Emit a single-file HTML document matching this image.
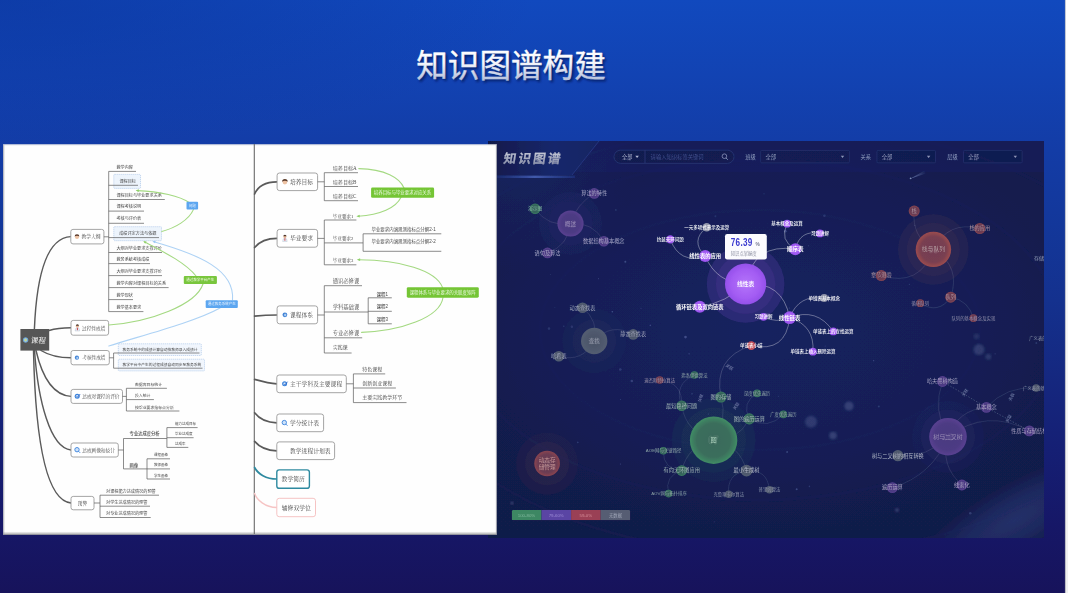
<!DOCTYPE html>
<html><head><meta charset="utf-8"><title>知识图谱构建</title>
<style>html,body{margin:0;padding:0;background:#17135a;width:1068px;height:593px;overflow:hidden;font-family:"Liberation Sans",sans-serif}
svg text{font-family:"Liberation Sans","Noto Sans CJK SC",sans-serif}
svg text.r{font-family:"Liberation Serif","Noto Serif CJK SC",serif}</style>
</head><body>
<svg width="1068" height="593" viewBox="0 0 1068 593" style="display:block">
<defs>
<linearGradient id="bg" x1="0" y1="0" x2="0" y2="1">
<stop offset="0" stop-color="#1149be"/><stop offset="0.126" stop-color="#1243b3"/><stop offset="0.253" stop-color="#133ca6"/><stop offset="0.38" stop-color="#13379a"/><stop offset="0.506" stop-color="#14318e"/><stop offset="0.632" stop-color="#152880"/><stop offset="0.759" stop-color="#151f74"/><stop offset="0.885" stop-color="#161767"/><stop offset="1" stop-color="#17135b"/>
</linearGradient>
<radialGradient id="bgr" cx="0" cy="0" r="0.5"><stop offset="0" stop-color="#0a2f92" stop-opacity="0.5"/><stop offset="1" stop-color="#0a2f92" stop-opacity="0"/></radialGradient>
<linearGradient id="strip" x1="0" y1="0" x2="0" y2="1"><stop offset="0" stop-color="#ffffff"/><stop offset="1" stop-color="#f0f0f0"/></linearGradient>
<linearGradient id="tg" gradientUnits="userSpaceOnUse" x1="0" y1="49" x2="0" y2="80.6"><stop offset="0" stop-color="#ffffff"/><stop offset="0.45" stop-color="#f4f6fb"/><stop offset="1" stop-color="#b4bfdc"/></linearGradient>
<filter id="tsh" x="-10%" y="-30%" width="120%" height="160%"><feGaussianBlur stdDeviation="0.9"/></filter>

<linearGradient id="rbg" x1="0" y1="0" x2="0" y2="1"><stop offset="0" stop-color="#121b4e"/><stop offset="0.5" stop-color="#121b4c"/><stop offset="1" stop-color="#111a4a"/></linearGradient>
<radialGradient id="rglow1" gradientUnits="userSpaceOnUse" cx="1015" cy="520" r="120" gradientTransform="translate(1015 520) rotate(-30) scale(1 0.3) translate(-1015 -520)"><stop offset="0" stop-color="#3a4a8c" stop-opacity="0.45"/><stop offset="0.5" stop-color="#3a4a8c" stop-opacity="0.3"/><stop offset="1" stop-color="#3a4a8c" stop-opacity="0"/></radialGradient>
<radialGradient id="rglow2" gradientUnits="userSpaceOnUse" cx="520" cy="150" r="120"><stop offset="0" stop-color="#2540a0" stop-opacity="0.22"/><stop offset="1" stop-color="#2540a0" stop-opacity="0"/></radialGradient>
<radialGradient id="rglow3" gradientUnits="userSpaceOnUse" cx="760" cy="330" r="330" gradientTransform="translate(760 330) scale(1 0.62) translate(-760 -330)"><stop offset="0" stop-color="#1c2a78" stop-opacity="0.42"/><stop offset="0.55" stop-color="#1c2a78" stop-opacity="0.26"/><stop offset="1" stop-color="#1c2a78" stop-opacity="0"/></radialGradient>
<linearGradient id="star" gradientUnits="userSpaceOnUse" x1="910" y1="179" x2="926" y2="171.5"><stop offset="0" stop-color="#a8b6e6" stop-opacity="0.6"/><stop offset="1" stop-color="#8fa0d8" stop-opacity="0"/></linearGradient>
<linearGradient id="tab" x1="0" y1="0" x2="1" y2="0"><stop offset="0" stop-color="#11194a"/><stop offset="0.18" stop-color="#131d54"/><stop offset="0.6" stop-color="#19286c"/><stop offset="1" stop-color="#172462"/></linearGradient>
<linearGradient id="tabl" x1="0" y1="0" x2="1" y2="0"><stop offset="0" stop-color="#3d63d8" stop-opacity="0.1"/><stop offset="0.5" stop-color="#5f80e0" stop-opacity="0.6"/><stop offset="1" stop-color="#3d63d8" stop-opacity="0.2"/></linearGradient>
<linearGradient id="logo" gradientUnits="userSpaceOnUse" x1="0" y1="-10.7" x2="0" y2="1.3"><stop offset="0" stop-color="#c4c8d6"/><stop offset="1" stop-color="#8a8fa8"/></linearGradient>
<radialGradient id="pb"><stop offset="0" stop-color="#b474fa"/><stop offset="0.7" stop-color="#a35cf3"/><stop offset="1" stop-color="#9450ea"/></radialGradient>

<radialGradient id="cp"><stop offset="0" stop-color="#4a3a80"/><stop offset="0.72" stop-color="#4d3b84"/><stop offset="1" stop-color="#594191"/></radialGradient>
<radialGradient id="cr"><stop offset="0" stop-color="#653a52"/><stop offset="0.72" stop-color="#6c3c52"/><stop offset="1" stop-color="#8b4550"/></radialGradient>
<radialGradient id="cR"><stop offset="0" stop-color="#723d52"/><stop offset="0.72" stop-color="#793f51"/><stop offset="1" stop-color="#9d4c4e"/></radialGradient>
<radialGradient id="cg"><stop offset="0" stop-color="#34605a"/><stop offset="0.72" stop-color="#35655b"/><stop offset="1" stop-color="#3b7f61"/></radialGradient>
<radialGradient id="cG"><stop offset="0" stop-color="#3b6a5b"/><stop offset="0.72" stop-color="#3b6e5c"/><stop offset="1" stop-color="#408d65"/></radialGradient>
<radialGradient id="cy"><stop offset="0" stop-color="#485166"/><stop offset="1" stop-color="#535d71"/></radialGradient>
<clipPath id="rclip"><rect x="488" y="141" width="556" height="397"/></clipPath>
<filter id="b1"><feGaussianBlur stdDeviation="0.45"/></filter>
<filter id="rb" filterUnits="userSpaceOnUse" x="470" y="130" width="600" height="420"><feGaussianBlur stdDeviation="0.35"/></filter>
<filter id="b2"><feGaussianBlur stdDeviation="1.1"/></filter>


<clipPath id="lclip"><rect x="3.1" y="144.4" width="493.6" height="390.4"/></clipPath>
<filter id="lb" filterUnits="userSpaceOnUse" x="-10" y="130" width="520" height="420"><feGaussianBlur stdDeviation="0.42"/></filter>
<linearGradient id="bevb" x1="0" y1="0" x2="0" y2="1"><stop offset="0" stop-color="#8a8a8a" stop-opacity="0"/><stop offset="0.6" stop-color="#8a8a8a" stop-opacity="0.45"/><stop offset="1" stop-color="#70727c" stop-opacity="0.95"/></linearGradient>
<linearGradient id="bevl" x1="0" y1="0" x2="1" y2="0"><stop offset="0" stop-color="#8a8c96" stop-opacity="0.8"/><stop offset="0.4" stop-color="#9a9ca6" stop-opacity="0.3"/><stop offset="1" stop-color="#8a8c96" stop-opacity="0"/></linearGradient>
<linearGradient id="bevr" x1="0" y1="0" x2="1" y2="0"><stop offset="0" stop-color="#8a8c96" stop-opacity="0"/><stop offset="1" stop-color="#8a8c96" stop-opacity="0.9"/></linearGradient>
</defs>
<rect x="0" y="0" width="1068" height="593" fill="url(#bg)"/><rect x="0" y="0" width="1068" height="300" fill="url(#bgr)"/><rect x="1065.2" y="0" width="2.8" height="593" fill="url(#strip)"/><rect x="1064.9" y="0" width="0.8" height="593" fill="#b4b4b8" opacity="0.7"/><text x="418" y="78.5" font-size="31.6" fill="#06154f" opacity="0.7" filter="url(#tsh)" stroke="#06154f" stroke-width="0.38">知识图谱构建</text><text x="416.2" y="76.8" font-size="31.6" fill="url(#tg)" stroke="url(#tg)" stroke-width="0.35" stroke-linejoin="round">知识图谱构建</text><g clip-path="url(#rclip)"><g filter="url(#rb)"><rect x="488" y="141" width="556" height="397" fill="url(#rbg)"/><rect x="488" y="141" width="556" height="397" fill="url(#rglow1)"/><rect x="488" y="141" width="556" height="397" fill="url(#rglow2)"/><rect x="488" y="141" width="556" height="397" fill="url(#rglow3)"/><ellipse cx="760" cy="330" rx="300" ry="170" fill="none" stroke="#2c3a80" stroke-opacity="0.07" stroke-width="3"/><ellipse cx="760" cy="330" rx="220" ry="120" fill="none" stroke="#2c3a80" stroke-opacity="0.07" stroke-width="3"/><ellipse cx="780" cy="340" rx="380" ry="215" fill="none" stroke="#2c3a80" stroke-opacity="0.07" stroke-width="3"/><rect x="488" y="141" width="556" height="31" fill="#16236a" opacity="0.35"/><polygon points="488,141 599,141 591,151 572,175 488,175" fill="url(#tab)"/><rect x="495" y="175.6" width="80" height="2.4" fill="url(#tabl)" filter="url(#b1)"/><line x1="572" y1="175" x2="599" y2="141" stroke="#24347e" stroke-width="1"/><text transform="translate(503 163.2) skewX(-9)" font-size="12.6" font-weight="bold" letter-spacing="2.2" fill="url(#logo)" stroke="#a6abc0" stroke-width="0.25">知识图谱</text><rect x="614" y="150.2" width="120" height="13.1" rx="6.5" fill="#101848" fill-opacity="0.5" stroke="#2a3776" stroke-width="0.8"/><line x1="645" y1="150.4" x2="645" y2="163.2" stroke="#2e3b7c" stroke-width="0.8"/><text x="622" y="158.6" font-size="5.2" fill="#b4bbd2">全部</text><path d="M635.3 155.8h3.6l-1.8 2.2z" fill="#b4bbd2"/><text x="650.6" y="158.7" font-size="5.3" fill="#44518c">请输入知识标签关键词</text><circle cx="724.4" cy="156.2" r="2.3" fill="none" stroke="#8c96ba" stroke-width="0.8"/><line x1="726.1" y1="158" x2="727.8" y2="159.8" stroke="#8c96ba" stroke-width="0.9"/><text x="745.2" y="158.7" font-size="5.2" fill="#9aa3c4">班级</text><rect x="760.7" y="150.4" width="88.69999999999993" height="12.4" rx="1" fill="#101848" fill-opacity="0.4" stroke="#283470" stroke-width="0.7"/><text x="765.5" y="158.7" font-size="5.3" fill="#9aa2c0">全部</text><path d="M840.8 155.8h3.4l-1.7 2.1z" fill="#8d96b8"/><text x="860.6" y="158.7" font-size="5.2" fill="#9aa3c4">关系</text><rect x="877" y="150.4" width="58.5" height="12.4" rx="1" fill="#101848" fill-opacity="0.4" stroke="#283470" stroke-width="0.7"/><text x="881.8" y="158.7" font-size="5.3" fill="#9aa2c0">全部</text><path d="M926.9 155.8h3.4l-1.7 2.1z" fill="#8d96b8"/><text x="947.2" y="158.7" font-size="5.2" fill="#9aa3c4">层级</text><rect x="963.5" y="150.4" width="58.700000000000045" height="12.4" rx="1" fill="#101848" fill-opacity="0.4" stroke="#283470" stroke-width="0.7"/><text x="968.3" y="158.7" font-size="5.3" fill="#9aa2c0">全部</text><path d="M1013.6 155.8h3.4l-1.7 2.1z" fill="#8d96b8"/><circle cx="674.9" cy="232.8" r="0.5" fill="#6f7cb8" opacity="0.22"/><circle cx="789.4" cy="308.0" r="0.5" fill="#6f7cb8" opacity="0.47"/><circle cx="615.9" cy="210.1" r="1.0" fill="#6f7cb8" opacity="0.22"/><circle cx="549.0" cy="328.6" r="1.3" fill="#6f7cb8" opacity="0.24"/><circle cx="620.5" cy="399.6" r="0.5" fill="#6f7cb8" opacity="0.37"/><circle cx="714.2" cy="521.7" r="0.5" fill="#6f7cb8" opacity="0.37"/><circle cx="571.9" cy="326.7" r="1.3" fill="#6f7cb8" opacity="0.24"/><circle cx="666.6" cy="465.6" r="0.6" fill="#6f7cb8" opacity="0.23"/><circle cx="808.5" cy="245.8" r="0.5" fill="#6f7cb8" opacity="0.36"/><circle cx="533.9" cy="200.9" r="0.6" fill="#6f7cb8" opacity="0.35"/><circle cx="787.1" cy="452.0" r="1.0" fill="#6f7cb8" opacity="0.38"/><circle cx="744.7" cy="284.9" r="0.6" fill="#6f7cb8" opacity="0.41"/><circle cx="631.8" cy="381.0" r="1.3" fill="#6f7cb8" opacity="0.35"/><circle cx="685.5" cy="337.1" r="1.3" fill="#6f7cb8" opacity="0.49"/><circle cx="563.8" cy="326.3" r="0.8" fill="#6f7cb8" opacity="0.25"/><circle cx="764.0" cy="193.7" r="0.5" fill="#6f7cb8" opacity="0.43"/><circle cx="809.4" cy="486.4" r="0.8" fill="#6f7cb8" opacity="0.30"/><circle cx="689.1" cy="353.8" r="1.0" fill="#6f7cb8" opacity="0.22"/><circle cx="550.5" cy="274.5" r="0.5" fill="#6f7cb8" opacity="0.22"/><circle cx="878.8" cy="406.5" r="1.0" fill="#6f7cb8" opacity="0.29"/><circle cx="708.3" cy="414.0" r="0.5" fill="#6f7cb8" opacity="0.48"/><circle cx="692.0" cy="393.8" r="1.0" fill="#6f7cb8" opacity="0.22"/><circle cx="914.8" cy="225.3" r="0.6" fill="#6f7cb8" opacity="0.32"/><circle cx="995.1" cy="353.8" r="0.6" fill="#6f7cb8" opacity="0.33"/><circle cx="796.7" cy="489.2" r="1.0" fill="#6f7cb8" opacity="0.46"/><circle cx="650.3" cy="325.4" r="0.8" fill="#6f7cb8" opacity="0.40"/><circle cx="705.4" cy="260.8" r="0.5" fill="#6f7cb8" opacity="0.25"/><circle cx="625.3" cy="261.7" r="1.0" fill="#6f7cb8" opacity="0.45"/><circle cx="598.5" cy="278.7" r="0.6" fill="#6f7cb8" opacity="0.33"/><circle cx="699.4" cy="378.2" r="0.6" fill="#6f7cb8" opacity="0.41"/><circle cx="778.4" cy="396.2" r="0.5" fill="#6f7cb8" opacity="0.34"/><circle cx="970.3" cy="513.2" r="1.3" fill="#6f7cb8" opacity="0.32"/><circle cx="715.4" cy="216.2" r="1.0" fill="#6f7cb8" opacity="0.22"/><circle cx="536.4" cy="253.1" r="0.6" fill="#6f7cb8" opacity="0.23"/><circle cx="824.4" cy="215.8" r="1.3" fill="#6f7cb8" opacity="0.25"/><circle cx="554.8" cy="307.3" r="0.5" fill="#6f7cb8" opacity="0.22"/><circle cx="612.3" cy="311.7" r="0.8" fill="#6f7cb8" opacity="0.49"/><circle cx="825.2" cy="346.0" r="0.5" fill="#6f7cb8" opacity="0.45"/><circle cx="1036.3" cy="343.1" r="1.0" fill="#6f7cb8" opacity="0.29"/><circle cx="577.8" cy="442.4" r="0.8" fill="#6f7cb8" opacity="0.34"/><circle cx="873.7" cy="360.7" r="0.6" fill="#6f7cb8" opacity="0.49"/><circle cx="785.3" cy="231.3" r="1.3" fill="#6f7cb8" opacity="0.47"/><circle cx="909.4" cy="284.3" r="0.5" fill="#6f7cb8" opacity="0.41"/><circle cx="641.0" cy="308.3" r="0.6" fill="#6f7cb8" opacity="0.31"/><circle cx="620.3" cy="369.5" r="1.3" fill="#6f7cb8" opacity="0.30"/><circle cx="620.4" cy="464.0" r="0.6" fill="#6f7cb8" opacity="0.44"/><circle cx="811" cy="421.7" r="6" fill="#8a94c0" opacity="0.22999999999999998" filter="url(#b2)"/><circle cx="833" cy="435.6" r="3.8" fill="#8a94c0" opacity="0.28" filter="url(#b2)"/><circle cx="849" cy="406" r="4.6" fill="#8a94c0" opacity="0.28" filter="url(#b2)"/><circle cx="979" cy="349.6" r="5.5" fill="#8a94c0" opacity="0.24" filter="url(#b2)"/><circle cx="988.4" cy="356.8" r="3" fill="#8a94c0" opacity="0.22000000000000003" filter="url(#b2)"/><circle cx="976.5" cy="336.4" r="2.8" fill="#8a94c0" opacity="0.16" filter="url(#b2)"/><circle cx="897" cy="510" r="1.8" fill="#8a94c0" opacity="0.38" filter="url(#b2)"/><circle cx="512" cy="503" r="1.6" fill="#8a94c0" opacity="0.38" filter="url(#b2)"/><path d="M910.3 178.8L924.6 170.4L926 173.4Z" fill="url(#star)" filter="url(#b1)"/><circle cx="910.6" cy="178.3" r="0.9" fill="#c5d0f0" opacity="0.6"/><circle cx="570.5" cy="223.5" r="31.5" fill="#5e429a" opacity="0.07"/><circle cx="570.5" cy="223.5" r="22" fill="#5e429a" opacity="0.075"/><circle cx="594.2" cy="341" r="32" fill="#525c70" opacity="0.06"/><circle cx="594.2" cy="341" r="22" fill="#525c70" opacity="0.06"/><circle cx="547.1" cy="463.5" r="31" fill="#8a4450" opacity="0.09"/><circle cx="547.1" cy="463.5" r="22" fill="#8a4450" opacity="0.085"/><circle cx="713.6" cy="440.2" r="41.8" fill="#3f8c64" opacity="0.07"/><circle cx="713.6" cy="440.2" r="32.6" fill="#3f8c64" opacity="0.075"/><circle cx="745.6" cy="284" r="38.8" fill="#a35cf3" opacity="0.16"/><circle cx="745.6" cy="284" r="29.7" fill="#a35cf3" opacity="0.085"/><circle cx="933.4" cy="249.4" r="35.4" fill="#9c4b4e" opacity="0.095"/><circle cx="933.4" cy="249.4" r="26.6" fill="#9c4b4e" opacity="0.09"/><circle cx="948" cy="436.7" r="36" fill="#5e429a" opacity="0.07"/><circle cx="948" cy="436.7" r="27" fill="#5e429a" opacity="0.075"/><path d="M570.5 223.5Q576.6 203.9 594.2 193.4" fill="none" stroke="#fff" stroke-opacity="0.14" stroke-width="0.7"/><path d="M570.5 223.5Q592.8 221.7 603.8 241.2" fill="none" stroke="#fff" stroke-opacity="0.14" stroke-width="0.7"/><path d="M570.5 223.5Q568.4 245.6 547.5 252.9" fill="none" stroke="#fff" stroke-opacity="0.14" stroke-width="0.7"/><path d="M570.5 223.5Q548.1 227.4 535.1 208.7" fill="none" stroke="#fff" stroke-opacity="0.14" stroke-width="0.7"/><path d="M594.2 341.0Q599.0 320.7 582.5 307.8" fill="none" stroke="#fff" stroke-opacity="0.14" stroke-width="0.7"/><path d="M594.2 341.0Q611.1 322.1 633.2 334.4" fill="none" stroke="#fff" stroke-opacity="0.14" stroke-width="0.7"/><path d="M594.2 341.0Q582.6 362.8 558.8 356.2" fill="none" stroke="#fff" stroke-opacity="0.14" stroke-width="0.7"/><path d="M713.6 440.2Q686.6 433.2 681.7 405.8" fill="none" stroke="#fff" stroke-opacity="0.14" stroke-width="0.7"/><path d="M713.6 440.2Q727.7 420.4 721.0 397.0" fill="none" stroke="#fff" stroke-opacity="0.14" stroke-width="0.7"/><path d="M713.6 440.2Q738.3 441.0 749.3 418.9" fill="none" stroke="#fff" stroke-opacity="0.14" stroke-width="0.7"/><path d="M713.6 440.2Q687.9 445.2 681.7 470.6" fill="none" stroke="#fff" stroke-opacity="0.14" stroke-width="0.7"/><path d="M713.6 440.2Q739.8 444.9 746.5 470.6" fill="none" stroke="#fff" stroke-opacity="0.14" stroke-width="0.7"/><path d="M681.7 405.8Q673.3 384.3 694.4 375.0" fill="none" stroke="#fff" stroke-opacity="0.15" stroke-width="0.7"/><path d="M681.7 405.8Q683.1 382.3 659.7 380.0" fill="none" stroke="#fff" stroke-opacity="0.15" stroke-width="0.7"/><path d="M681.7 470.6Q663.0 469.5 663.3 450.8" fill="none" stroke="#fff" stroke-opacity="0.15" stroke-width="0.7"/><path d="M681.7 470.6Q664.1 475.8 668.6 493.6" fill="none" stroke="#fff" stroke-opacity="0.15" stroke-width="0.7"/><path d="M746.5 470.6Q726.3 474.0 728.8 494.3" fill="none" stroke="#fff" stroke-opacity="0.15" stroke-width="0.7"/><path d="M746.5 470.6Q767.2 469.1 769.5 489.7" fill="none" stroke="#fff" stroke-opacity="0.15" stroke-width="0.7"/><path d="M749.3 418.9Q741.0 402.4 757.1 393.4" fill="none" stroke="#fff" stroke-opacity="0.15" stroke-width="0.7"/><path d="M749.3 418.9Q768.1 430.3 783.4 414.4" fill="none" stroke="#fff" stroke-opacity="0.15" stroke-width="0.7"/><path d="M721.0 397.0Q713.1 357.7 751.3 345.6" fill="none" stroke="#fff" stroke-opacity="0.25" stroke-width="0.7"/><path d="M745.6 284.0Q716.5 283.0 705.2 256.1" fill="none" stroke="#fff" stroke-opacity="0.55" stroke-width="0.7"/><path d="M705.2 256.1Q679.7 264.5 670.3 239.4" fill="none" stroke="#fff" stroke-opacity="0.5" stroke-width="0.7"/><path d="M705.2 256.1Q689.8 240.9 706.7 227.3" fill="none" stroke="#fff" stroke-opacity="0.5" stroke-width="0.7"/><path d="M745.6 284.0Q726.3 302.7 699.8 306.8" fill="none" stroke="#fff" stroke-opacity="0.55" stroke-width="0.7"/><path d="M745.6 284.0Q753.7 242.7 795.3 249.2" fill="none" stroke="#fff" stroke-opacity="0.55" stroke-width="0.7"/><path d="M795.3 249.2Q779.0 240.4 787.1 223.7" fill="none" stroke="#fff" stroke-opacity="0.5" stroke-width="0.7"/><path d="M795.3 249.2Q800.0 229.5 819.9 233.4" fill="none" stroke="#fff" stroke-opacity="0.5" stroke-width="0.7"/><path d="M745.6 284.0Q782.7 281.1 789.6 317.7" fill="none" stroke="#fff" stroke-opacity="0.55" stroke-width="0.7"/><path d="M789.6 317.7Q776.3 323.5 763.5 316.8" fill="none" stroke="#fff" stroke-opacity="0.5" stroke-width="0.7"/><path d="M789.6 317.7Q799.0 294.0 824.2 298.0" fill="none" stroke="#fff" stroke-opacity="0.5" stroke-width="0.7"/><path d="M789.6 317.7Q816.9 307.1 833.3 331.4" fill="none" stroke="#fff" stroke-opacity="0.5" stroke-width="0.7"/><path d="M789.6 317.7Q814.9 325.4 812.9 351.7" fill="none" stroke="#fff" stroke-opacity="0.5" stroke-width="0.7"/><path d="M789.6 317.7Q786.1 353.1 751.3 345.6" fill="none" stroke="#fff" stroke-opacity="0.5" stroke-width="0.7"/><path d="M933.4 249.4Q911.5 236.4 914.2 211.1" fill="none" stroke="#fff" stroke-opacity="0.14" stroke-width="0.7"/><path d="M933.4 249.4Q948.2 220.4 979.8 228.5" fill="none" stroke="#fff" stroke-opacity="0.14" stroke-width="0.7"/><path d="M933.4 249.4Q919.9 287.5 881.3 275.6" fill="none" stroke="#fff" stroke-opacity="0.14" stroke-width="0.7"/><path d="M933.4 249.4Q961.2 266.4 950.7 297.2" fill="none" stroke="#fff" stroke-opacity="0.14" stroke-width="0.7"/><path d="M950.7 297.2Q938.4 314.8 920.3 303.2" fill="none" stroke="#fff" stroke-opacity="0.15" stroke-width="0.7"/><path d="M950.7 297.2Q968.7 300.4 973.4 318.1" fill="none" stroke="#fff" stroke-opacity="0.15" stroke-width="0.7"/><path d="M948.0 436.7Q932.0 410.4 942.5 381.5" fill="none" stroke="#fff" stroke-opacity="0.14" stroke-width="0.7"/><path d="M948.0 436.7Q957.8 409.8 986.4 407.4" fill="none" stroke="#fff" stroke-opacity="0.14" stroke-width="0.7"/><path d="M948.0 436.7Q986.8 407.8 1029.3 430.9" fill="none" stroke="#fff" stroke-opacity="0.14" stroke-width="0.7"/><path d="M948.0 436.7Q927.5 458.2 897.9 455.7" fill="none" stroke="#fff" stroke-opacity="0.14" stroke-width="0.7"/><path d="M948.0 436.7Q932.4 475.5 892.4 487.6" fill="none" stroke="#fff" stroke-opacity="0.14" stroke-width="0.7"/><path d="M948.0 436.7Q939.5 465.3 961.9 485.0" fill="none" stroke="#fff" stroke-opacity="0.14" stroke-width="0.7"/><path d="M986.4 407.4Q1006.6 385.7 1036.2 388.0" fill="none" stroke="#fff" stroke-opacity="0.15" stroke-width="0.7"/><path d="M942.5 381.5Q964.5 394.4 986.4 407.4" fill="none" stroke="#fff" stroke-opacity="0.3" stroke-width="0.7" stroke-dasharray="1.5 1.5"/><path d="M986.4 407.4Q1007.8 419.1 1029.3 430.9" fill="none" stroke="#fff" stroke-opacity="0.3" stroke-width="0.7" stroke-dasharray="1.5 1.5"/><circle cx="570.5" cy="223.5" r="13.1" fill="url(#cp)"/><circle cx="594.2" cy="193.4" r="5.3" fill="url(#cp)"/><circle cx="603.8" cy="241.2" r="5.3" fill="url(#cp)"/><circle cx="547.5" cy="252.9" r="5.3" fill="url(#cp)"/><circle cx="535.1" cy="208.7" r="5.3" fill="url(#cg)"/><circle cx="594.2" cy="341" r="13.2" fill="url(#cy)"/><circle cx="582.5" cy="307.8" r="5.3" fill="url(#cy)"/><circle cx="633.2" cy="334.4" r="5.3" fill="url(#cy)"/><circle cx="558.8" cy="356.2" r="5.3" fill="url(#cy)"/><circle cx="547.1" cy="463.5" r="12.8" fill="url(#cr)"/><circle cx="713.6" cy="440.2" r="23.7" fill="url(#cG)"/><circle cx="681.7" cy="405.8" r="5.3" fill="url(#cg)"/><circle cx="721" cy="397" r="5.6" fill="url(#cg)"/><circle cx="749.3" cy="418.9" r="5.6" fill="url(#cg)"/><circle cx="694.4" cy="375" r="3.8" fill="url(#cg)"/><circle cx="659.7" cy="380" r="3.8" fill="url(#cr)"/><circle cx="663.3" cy="450.8" r="3.8" fill="url(#cg)"/><circle cx="681.7" cy="470.6" r="5.3" fill="url(#cg)"/><circle cx="668.6" cy="493.6" r="3.8" fill="url(#cg)"/><circle cx="746.5" cy="470.6" r="5.8" fill="url(#cy)"/><circle cx="728.8" cy="494.3" r="3.8" fill="url(#cy)"/><circle cx="769.5" cy="489.7" r="3.8" fill="url(#cy)"/><circle cx="757.1" cy="393.4" r="3.8" fill="url(#cg)"/><circle cx="783.4" cy="414.4" r="3.8" fill="url(#cg)"/><circle cx="745.6" cy="284" r="20.6" fill="url(#pb)"/><circle cx="705.2" cy="256.1" r="6" fill="url(#pb)"/><circle cx="670.3" cy="239.4" r="4.2" fill="url(#pb)"/><circle cx="706.7" cy="227.3" r="4.2" fill="#8f93a8"/><circle cx="699.8" cy="306.8" r="6" fill="url(#pb)"/><circle cx="795.3" cy="249.2" r="6" fill="url(#pb)"/><circle cx="787.1" cy="223.7" r="3.9" fill="url(#pb)"/><circle cx="819.9" cy="233.4" r="3.9" fill="url(#pb)"/><circle cx="789.6" cy="317.7" r="6.4" fill="url(#pb)"/><circle cx="763.5" cy="316.8" r="3.9" fill="url(#pb)"/><circle cx="824.2" cy="298" r="3.9" fill="#8f93a8"/><circle cx="833.3" cy="331.4" r="3.9" fill="url(#pb)"/><circle cx="812.9" cy="351.7" r="3.9" fill="url(#pb)"/><circle cx="751.3" cy="345.6" r="4.3" fill="#c4535e"/><circle cx="933.4" cy="249.4" r="17.7" fill="url(#cR)"/><circle cx="914.2" cy="211.1" r="5.5" fill="url(#cr)"/><circle cx="979.8" cy="228.5" r="5.5" fill="url(#cr)"/><circle cx="881.3" cy="275.6" r="5.5" fill="url(#cr)"/><circle cx="950.7" cy="297.2" r="5.5" fill="url(#cr)"/><circle cx="920.3" cy="303.2" r="3.9" fill="url(#cr)"/><circle cx="973.4" cy="318.1" r="3.9" fill="url(#cr)"/><circle cx="948" cy="436.7" r="18.8" fill="url(#cp)"/><circle cx="942.5" cy="381.5" r="5.4" fill="url(#cp)"/><circle cx="986.4" cy="407.4" r="5.4" fill="url(#cp)"/><circle cx="1029.3" cy="430.9" r="5.4" fill="url(#cp)"/><circle cx="897.9" cy="455.7" r="5.6" fill="url(#cy)"/><circle cx="892.4" cy="487.6" r="5.4" fill="url(#cp)"/><circle cx="961.9" cy="485" r="5.4" fill="url(#cp)"/><circle cx="1036.2" cy="388" r="3.8" fill="url(#cy)"/><circle cx="489" cy="475" r="3.8" fill="url(#cy)"/><g transform="rotate(35 729.5 367)"><text x="725.3" y="368.6" font-size="4.2" fill="#7d86ae">关联</text></g><g transform="rotate(-72 700.5 398)"><text x="696.3" y="399.6" font-size="4.2" fill="#7d86ae">关联</text></g><g transform="rotate(-55 736 406)"><text x="731.8" y="407.6" font-size="4.2" fill="#7d86ae">关联</text></g><g transform="rotate(-55 964.8 392.5)"><text x="960.6" y="394.1" font-size="4.2" fill="#7d86ae">关联</text></g><g transform="rotate(-60 1011.5 397)"><text x="1007.3" y="398.6" font-size="4.2" fill="#7d86ae">关联</text></g><g transform="rotate(-62 1008.5 418.5)"><text x="1004.3" y="420.1" font-size="4.2" fill="#7d86ae">关联</text></g><text x="564.7" y="225.59" font-size="5.8" fill="#9284b2">概述</text><text x="581.2" y="195.27" font-size="5.2" fill="#a9a6c6">算法的特性</text><text x="583" y="243.07" font-size="5.2" fill="#a9a6c6">数据结构基本概念</text><text x="534.5" y="254.77" font-size="5.2" fill="#a9a6c6">语句及算法</text><text x="527.9" y="210.43" font-size="4.8" fill="#86b8a4">演示图</text><text x="588.4" y="343.09" font-size="5.8" fill="#8c92a4">查找</text><text x="569.5" y="309.67" font-size="5.2" fill="#9ea3b8">动态查找表</text><text x="620.2" y="336.27" font-size="5.2" fill="#9ea3b8">静态查找表</text><text x="551" y="358.07" font-size="5.2" fill="#9ea3b8">哈希表</text><text x="538.7" y="461.9" font-size="5.6" fill="#c49494">动态存</text><text x="538.7" y="469.1" font-size="5.6" fill="#c49494">储管理</text><text x="710.5" y="442.43" font-size="6.2" fill="#a4ccb6">图</text><text x="666.1" y="407.67" font-size="5.2" fill="#a4b6b6">最短路径问题</text><text x="710.6" y="398.87" font-size="5.2" fill="#a4b6b6">图的存储</text><text x="733.7" y="420.77" font-size="5.2" fill="#a4b6b6">图的遍历运算</text><text x="681.2" y="376.58" font-size="4.4" fill="#8fa3a6">弗洛伊德算法</text><text x="644.3" y="381.58" font-size="4.4" fill="#a698ac">迪杰斯特拉算法</text><text x="645.83" y="452.38" font-size="4.4" fill="#8fa3a6">AOE网与关键路径</text><text x="663.5" y="472.47" font-size="5.2" fill="#a4b6b6">有向无环图应用</text><text x="651.16" y="495.18" font-size="4.4" fill="#8fa3a6">AOV网与拓扑排序</text><text x="733.5" y="472.47" font-size="5.2" fill="#b5b8c8">最小生成树</text><text x="713.4" y="495.88" font-size="4.4" fill="#8f94aa">克鲁斯卡尔算法</text><text x="758.5" y="491.28" font-size="4.4" fill="#8f94aa">普里姆算法</text><text x="743.9" y="394.98" font-size="4.4" fill="#8fa3a6">深度优先遍历</text><text x="770.2" y="415.98" font-size="4.4" fill="#8fa3a6">广度优先遍历</text><text x="736.9" y="286.09" font-size="5.8" font-weight="bold" fill="#f8f2ff">线性表</text><text x="689.3" y="258.01" font-size="5.3" font-weight="bold" fill="#ffffff">线性表的应用</text><text x="656.8" y="241.02" font-size="4.5" font-weight="500" fill="#ffffff">约瑟夫环问题</text><text x="684.2" y="228.92" font-size="4.5" font-weight="500" fill="#ffffff">一元多项式表示及运算</text><text x="675.95" y="308.71" font-size="5.3" font-weight="bold" fill="#ffffff">循环链表及双向链表</text><text x="786.9" y="251.22" font-size="5.6" font-weight="bold" fill="#ffffff">顺序表</text><text x="771.35" y="225.32" font-size="4.5" font-weight="500" fill="#ffffff">基本概念及运算</text><text x="810.9" y="235.02" font-size="4.5" font-weight="500" fill="#ffffff">习题讲解</text><text x="778.8" y="319.64" font-size="5.4" font-weight="bold" fill="#ffffff">线性链表</text><text x="754.5" y="318.42" font-size="4.5" font-weight="500" fill="#ffffff">习题讲解</text><text x="808.45" y="299.62" font-size="4.5" font-weight="500" fill="#ffffff">单链表基本概念</text><text x="813.05" y="333.02" font-size="4.5" font-weight="500" fill="#ffffff">单链表上的查找运算</text><text x="790.4" y="353.32" font-size="4.5" font-weight="500" fill="#ffffff">单链表上插入删除运算</text><text x="740.05" y="347.22" font-size="4.5" font-weight="500" fill="#ffffff">单链表小结</text><text x="921.8" y="251.49" font-size="5.8" fill="#b39a9e">栈与队列</text><text x="911.6" y="212.97" font-size="5.2" fill="#ac929e">栈</text><text x="969.4" y="230.37" font-size="5.2" fill="#ac929e">栈的应用</text><text x="870.9" y="277.47" font-size="5.2" fill="#ac929e">章节测验</text><text x="945.5" y="299.07" font-size="5.2" fill="#ac929e">队列</text><text x="911.5" y="304.78" font-size="4.4" fill="#8f88a8">循环队列</text><text x="951.4" y="319.68" font-size="4.4" fill="#8f88a8">队列的基本概念及实现</text><text x="933.25" y="438.82" font-size="5.9" fill="#978cb4">树与二叉树</text><text x="926.9" y="383.37" font-size="5.2" fill="#a9a2c2">哈夫曼树构造</text><text x="976" y="409.27" font-size="5.2" fill="#a9a2c2">基本概念</text><text x="1011.1" y="432.77" font-size="5.2" fill="#a9a2c2">性质与存储结构</text><text x="871.9" y="457.57" font-size="5.2" fill="#b5b8c8">树与二叉树的相互转换</text><text x="882" y="489.47" font-size="5.2" fill="#a9a2c2">遍历运算</text><text x="954.1" y="486.87" font-size="5.2" fill="#a9a2c2">线索化</text><text x="1023" y="389.58" font-size="4.4" fill="#8f94aa">广义表的基本</text><text x="1029.2" y="339.88" font-size="4.4" fill="#8f94aa">广义表的定义</text><text x="1033.9" y="259.6" font-size="5" fill="#9aa0ba">存储结构</text><text x="484.6" y="476.58" font-size="4.4" fill="#8f94aa">算法</text><text transform="translate(566.24 226.56) scale(0.85 1)" font-size="8.5" font-weight="bold" letter-spacing="0.3" fill="none" stroke="#ffffff" stroke-opacity="0.16" stroke-width="0.42">01</text><text transform="translate(740.84 287.42) scale(0.85 1)" font-size="9.5" font-weight="bold" letter-spacing="0.32" fill="none" stroke="#ffffff" stroke-opacity="0.16" stroke-width="0.45">02</text><text transform="translate(928.64 252.82) scale(0.85 1)" font-size="9.5" font-weight="bold" letter-spacing="0.32" fill="none" stroke="#ffffff" stroke-opacity="0.16" stroke-width="0.45">08</text><text transform="translate(708.33 443.98) scale(0.85 1)" font-size="10.5" font-weight="bold" letter-spacing="0.36" fill="none" stroke="#ffffff" stroke-opacity="0.16" stroke-width="0.5">07</text><text transform="translate(943.24 440.12) scale(0.85 1)" font-size="9.5" font-weight="bold" letter-spacing="0.32" fill="none" stroke="#ffffff" stroke-opacity="0.16" stroke-width="0.45">05</text><text transform="translate(589.94 344.06) scale(0.85 1)" font-size="8.5" font-weight="bold" letter-spacing="0.3" fill="none" stroke="#ffffff" stroke-opacity="0.16" stroke-width="0.42">09</text><text transform="translate(542.84 466.56) scale(0.85 1)" font-size="8.5" font-weight="bold" letter-spacing="0.3" fill="none" stroke="#ffffff" stroke-opacity="0.16" stroke-width="0.42">10</text><rect x="725" y="234" width="41.8" height="25.5" rx="2.2" fill="#fbfbfe"/><text transform="translate(730.8 246.3) scale(0.8 1)" font-size="10.2" font-weight="bold" letter-spacing="0.35" fill="#3a39cf">76.39</text><text x="755.6" y="246.2" font-size="4.8" font-weight="bold" fill="#747790">%</text><text x="730.8" y="255.1" font-size="4.3" fill="#8d90a2">知识点掌握度</text><g><clipPath id="lgc"><rect x="511.7" y="510" width="118.6" height="10.2" rx="1.5"/></clipPath><g clip-path="url(#lgc)"><rect x="511.7" y="510" width="29.8" height="10.2" fill="#3e8763"/><rect x="541.5" y="510" width="29.6" height="10.2" fill="#5a45a4"/><rect x="571.1" y="510" width="29.6" height="10.2" fill="#9a4054"/><rect x="600.7" y="510" width="29.6" height="10.2" fill="#565d73"/></g></g><text x="517.71" y="516.8" font-size="4.4" fill="#7fb89c">100-80%</text><text x="548.63" y="516.8" font-size="4.4" fill="#9c8bd6">79-60%</text><text x="579.45" y="516.8" font-size="4.4" fill="#d48a98">59-0%</text><text x="608.9" y="516.8" font-size="4.4" fill="#a0a6b8">无数据</text></g></g><g clip-path="url(#lclip)" filter="url(#lb)"><rect x="3.1" y="144.4" width="493.6" height="390.4" fill="#fefefe"/><rect x="3.1" y="531.4" width="493.6" height="3.4" fill="url(#bevb)"/><rect x="3.1" y="144.4" width="2.4" height="390.4" fill="url(#bevl)"/><rect x="495.3" y="144.4" width="1.4" height="390.4" fill="url(#bevr)"/><rect x="3.1" y="144.4" width="493.6" height="0.9" fill="#c9ccd6" opacity="0.7"/><line x1="254.3" y1="144" x2="254.3" y2="534" stroke="#6a6a6a" stroke-width="1.1"/><rect x="20.4" y="329" width="28.8" height="21.6" fill="#565656"/><circle cx="25.6" cy="340" r="2.3" fill="#9fc4d8" stroke="#6aa8e0" stroke-width="0.9"/><circle cx="25.6" cy="340" r="1.2" fill="#c4d890"/><text class="r" transform="translate(30.6 343.2) skewX(-10)" font-size="7.4" fill="#f2f2f2" stroke="#f2f2f2" stroke-width="0.09">课程</text><path d="M34.4 329C36 290 42 238 70.8 236.6" stroke="#5a5a5a" stroke-width="1.45" fill="none" stroke-linecap="round"/><path d="M49 330.5C57 328 62 327.7 71 327.7" stroke="#5a5a5a" stroke-width="1.45" fill="none" stroke-linecap="round"/><path d="M41 350.5C50 356 58 357.8 71 357.8" stroke="#5a5a5a" stroke-width="1.45" fill="none" stroke-linecap="round"/><path d="M36 350.5C41 372 50 395 71 396.4" stroke="#5a5a5a" stroke-width="1.45" fill="none" stroke-linecap="round"/><path d="M34.5 350.5C38 400 50 448 71 450" stroke="#5a5a5a" stroke-width="1.45" fill="none" stroke-linecap="round"/><path d="M33.5 350.5C35 420 42 500 71 503" stroke="#5a5a5a" stroke-width="1.45" fill="none" stroke-linecap="round"/><rect x="70.8" y="229.4" width="33.1" height="14.5" rx="2.2" fill="#fff" stroke="#9b9b9b" stroke-width="0.9"/><circle cx="77" cy="236.9" r="2.04" fill="#eec3a4"/><path d="M74.6 236.6a2.4 2.4 0 0 1 4.8 0q-2.4 -1.68 -4.8 0z" fill="#5b3b2b"/><text class="r" x="81.6" y="238.4" font-size="4.75" fill="#4a4a4a">教学大纲</text><rect x="71" y="320.4" width="37.6" height="14.8" rx="2.2" fill="#fff" stroke="#9b9b9b" stroke-width="0.9"/><circle cx="77.4" cy="326.2" r="1.5" fill="#e9b896"/><path d="M75.80000000000001 325.8a1.6 1.6 0 0 1 3.2 0z" fill="#4a3328"/><path d="M75.10000000000001 331.0q0 -3.4 2.3 -3.4q2.3 0 2.3 3.4z" fill="#e8eef8" stroke="#9ab" stroke-width="0.3"/><rect x="76.9" y="327.8" width="1" height="2.4" fill="#d04a4a"/><text class="r" x="82.1" y="329.5" font-size="4.65" fill="#4a4a4a">过程性成绩</text><rect x="71" y="350.5" width="38.3" height="14.3" rx="2.2" fill="#fff" stroke="#9b9b9b" stroke-width="0.9"/><circle cx="76.9" cy="357.7" r="2.1" fill="#4585d6"/><circle cx="77.2" cy="357.9" r="1.05" fill="#a8cbf2"/><text class="r" x="82.3" y="359.4" font-size="4.65" fill="#4a4a4a">考核性成绩</text><rect x="71" y="389.4" width="51.5" height="14.0" rx="2.2" fill="#fff" stroke="#9b9b9b" stroke-width="0.9"/><circle cx="77.2" cy="396.2" r="2.5" fill="#3b83dc"/><circle cx="77.2" cy="396.2" r="1.3" fill="#d7e8fb"/><path d="M76.60000000000001 396.2l1 1l2.6 -3.2" stroke="#2b5fc0" stroke-width="0.8" fill="none"/><text class="r" x="82.3" y="398.1" font-size="4.65" fill="#4a4a4a">达成对课程的评价</text><rect x="71" y="443" width="47.3" height="14.0" rx="2.2" fill="#fff" stroke="#9b9b9b" stroke-width="0.9"/><circle cx="77.0" cy="449.7" r="2.2" fill="#cfe3fa" stroke="#3b83dc" stroke-width="0.9"/><path d="M78.6 451.3l1.5 1.5" stroke="#3b83dc" stroke-width="1"/><text class="r" x="82.3" y="451.7" font-size="4.65" fill="#4a4a4a">达成画像和统计</text><rect x="71" y="496.4" width="23.0" height="13.4" rx="2.2" fill="#fff" stroke="#9b9b9b" stroke-width="0.9"/><text class="r" x="77.85" y="504.8" font-size="4.65" fill="#4a4a4a">预警</text><path d="M103.9 236.8L108.7 236.8" stroke="#5a5a5a" stroke-width="0.7" fill="none"/><path d="M108.7 171.4L108.7 311.6" stroke="#5a5a5a" stroke-width="0.7" fill="none"/><rect x="113.8" y="174.4" width="26.7" height="14.0" rx="0.8" fill="#edf4fc" stroke="#9fc0e6" stroke-width="0.6" stroke-dasharray="1.2 0.8"/><rect x="113.8" y="226.7" width="47.7" height="14.0" rx="0.8" fill="#edf4fc" stroke="#9fc0e6" stroke-width="0.6" stroke-dasharray="1.2 0.8"/><text x="116.4" y="169.19" font-size="4.15" fill="#4a4a4a">教学内容</text><path d="M108.7 171.4L136 171.4" stroke="#5a5a5a" stroke-width="0.7" fill="none"/><text x="119.4" y="183.29" font-size="4.15" fill="#4a4a4a">课程目标</text><path d="M108.7 185.3L138 185.3" stroke="#5a5a5a" stroke-width="0.7" fill="none"/><text x="116.4" y="197.29" font-size="4.15" fill="#4a4a4a">课程目标与毕业要求关系</text><path d="M108.7 199.5L164.8 199.5" stroke="#5a5a5a" stroke-width="0.7" fill="none"/><text x="116.4" y="208.29" font-size="4.15" fill="#4a4a4a">课程考核说明</text><path d="M108.7 211.1L144 211.1" stroke="#5a5a5a" stroke-width="0.7" fill="none"/><text x="116.4" y="220.09" font-size="4.15" fill="#4a4a4a">考核与评价表</text><path d="M108.7 223.3L144 223.3" stroke="#5a5a5a" stroke-width="0.7" fill="none"/><text x="119.2" y="234.79" font-size="4.15" fill="#4a4a4a">成绩评定方法与依据</text><path d="M108.7 237.6L159 237.6" stroke="#5a5a5a" stroke-width="0.7" fill="none"/><text x="116.4" y="249.69" font-size="4.15" fill="#4a4a4a">大纲对毕业要求支撑评价</text><path d="M108.7 252.5L162 252.5" stroke="#5a5a5a" stroke-width="0.7" fill="none"/><text x="116.4" y="260.79" font-size="4.15" fill="#4a4a4a">教务系统考核成绩</text><path d="M108.7 263.6L150 263.6" stroke="#5a5a5a" stroke-width="0.7" fill="none"/><text x="116.4" y="272.99" font-size="4.15" fill="#4a4a4a">大纲对毕业要求支撑评价</text><path d="M108.7 275.6L162 275.6" stroke="#5a5a5a" stroke-width="0.7" fill="none"/><text x="116.4" y="284.79" font-size="4.15" fill="#4a4a4a">教学内容对课程目标的关系</text><path d="M108.7 287.6L168.6 287.6" stroke="#5a5a5a" stroke-width="0.7" fill="none"/><text x="116.4" y="296.89" font-size="4.15" fill="#4a4a4a">教学现状</text><path d="M108.7 299.6L133 299.6" stroke="#5a5a5a" stroke-width="0.7" fill="none"/><text x="116.4" y="308.69" font-size="4.15" fill="#4a4a4a">教学基本要求</text><path d="M108.7 311.6L143.4 311.6" stroke="#5a5a5a" stroke-width="0.7" fill="none"/><path d="M137.2 190.6C160 191.5 180 196 189 202.5" stroke="#a4d982" stroke-width="1.1" fill="none" stroke-linecap="round"/><path d="M193.5 209.4C189 220 175 228 161.8 231.5" stroke="#a4d982" stroke-width="1.1" fill="none" stroke-linecap="round"/><path d="M135.6 190.6l3.2 -1.3v2.6z" fill="#8fd06a"/><rect x="186.5" y="201.7" width="11.6" height="7.7" rx="1" fill="#5ba6f0"/><text x="188.7" y="207" font-size="3.6" fill="#e8f2ff">问题</text><path d="M108.8 325C150 322 196 305 203 284" stroke="#a4d982" stroke-width="1.1" fill="none" stroke-linecap="round"/><path d="M196 276C185 262 160 250 144.5 241.8" stroke="#a4d982" stroke-width="1.1" fill="none" stroke-linecap="round"/><path d="M143.2 241.2l3.4 0.2l-1.4 2.3z" fill="#8fd06a"/><rect x="183.8" y="275.9" width="33.1" height="8.1" rx="1" fill="#79c63c"/><text x="186.3" y="281.3" font-size="3.5" fill="#f0fae6">通过教学平台产生</text><path d="M153.8 241.8C200 255 235 270 232.5 300" stroke="#add2f5" stroke-width="1.1" fill="none" stroke-linecap="round"/><path d="M220 308C195 322 140 336 108.8 346" stroke="#add2f5" stroke-width="1.1" fill="none" stroke-linecap="round"/><path d="M152.4 241.2l3.4 -0.4l-0.8 2.4z" fill="#9cc8f2"/><rect x="205.7" y="300.2" width="32.1" height="7.8" rx="1" fill="#5ba6f0"/><text x="207.7" y="305.4" font-size="3.5" fill="#e8f2ff">通过教务系统产生</text><path d="M109.3 357.8L113.6 357.8" stroke="#5a5a5a" stroke-width="0.7" fill="none"/><path d="M113.6 353L113.6 368.2" stroke="#5a5a5a" stroke-width="0.7" fill="none"/><rect x="118.3" y="343.8" width="83.0" height="11.7" rx="0.8" fill="#f1f6fd" stroke="#9fc0e6" stroke-width="0.6" stroke-dasharray="1.2 0.8"/><rect x="118.3" y="359.2" width="86.2" height="11.7" rx="0.8" fill="#f1f6fd" stroke="#9fc0e6" stroke-width="0.6" stroke-dasharray="1.2 0.8"/><text x="122.6" y="351.05" font-size="3.75" fill="#4a4a4a">教务系统中的成绩计算自动按教师录入成绩计</text><path d="M113.6 353L199.5 353" stroke="#5a5a5a" stroke-width="0.7" fill="none"/><text x="122.6" y="366.15" font-size="3.75" fill="#4a4a4a">教学平台中产生的过程成绩自动同步至教务系统</text><path d="M113.6 368.2L202.5 368.2" stroke="#5a5a5a" stroke-width="0.7" fill="none"/><path d="M122.5 396.4L126.4 396.4" stroke="#5a5a5a" stroke-width="0.7" fill="none"/><path d="M126.4 388.3L126.4 411" stroke="#5a5a5a" stroke-width="0.7" fill="none"/><text x="134.9" y="386.1" font-size="3.9" fill="#4a4a4a">数据库目标统计</text><path d="M126.4 388.3L166.9 388.3" stroke="#5a5a5a" stroke-width="0.7" fill="none"/><text x="134.9" y="397.4" font-size="3.9" fill="#4a4a4a">投入统计</text><path d="M126.4 399.6L153.9 399.6" stroke="#5a5a5a" stroke-width="0.7" fill="none"/><text x="134.9" y="408.7" font-size="3.9" fill="#4a4a4a">按毕业要求指标点分析</text><path d="M126.4 411L179.4 411" stroke="#5a5a5a" stroke-width="0.7" fill="none"/><path d="M118.3 450L123.5 450" stroke="#5a5a5a" stroke-width="0.7" fill="none"/><path d="M123.5 438.5L123.5 468.9" stroke="#5a5a5a" stroke-width="0.7" fill="none"/><text x="129.6" y="435.35" font-size="4.3" font-weight="500" fill="#4a4a4a">专业达成度分析</text><path d="M123.5 438.5L166.9 438.5" stroke="#5a5a5a" stroke-width="0.7" fill="none"/><path d="M166.9 427.6L166.9 447.4" stroke="#5a5a5a" stroke-width="0.7" fill="none"/><text x="175" y="425.26" font-size="3.5" fill="#4a4a4a">能力达成目标</text><path d="M166.9 427.6L197.6 427.6" stroke="#5a5a5a" stroke-width="0.7" fill="none"/><text x="175" y="435.26" font-size="3.5" fill="#4a4a4a">毕业达成度</text><path d="M166.9 437.7L193.6 437.7" stroke="#5a5a5a" stroke-width="0.7" fill="none"/><text x="175" y="445.06" font-size="3.5" fill="#4a4a4a">达成率</text><path d="M166.9 447.4L188.3 447.4" stroke="#5a5a5a" stroke-width="0.7" fill="none"/><text x="129.6" y="466.75" font-size="4.3" font-weight="500" fill="#4a4a4a">画像</text><path d="M123.5 468.9L147 468.9" stroke="#5a5a5a" stroke-width="0.7" fill="none"/><path d="M147 458.8L147 479" stroke="#5a5a5a" stroke-width="0.7" fill="none"/><text x="153.9" y="456.36" font-size="3.5" fill="#4a4a4a">课程画像</text><path d="M147 458.8L170 458.8" stroke="#5a5a5a" stroke-width="0.7" fill="none"/><text x="153.9" y="466.46" font-size="3.5" fill="#4a4a4a">教师画像</text><path d="M147 468.9L170 468.9" stroke="#5a5a5a" stroke-width="0.7" fill="none"/><text x="153.9" y="476.66" font-size="3.5" fill="#4a4a4a">学生画像</text><path d="M147 479L170 479" stroke="#5a5a5a" stroke-width="0.7" fill="none"/><path d="M94 503L100 503" stroke="#5a5a5a" stroke-width="0.7" fill="none"/><path d="M100 495.2L100 517.5" stroke="#5a5a5a" stroke-width="0.7" fill="none"/><text x="106" y="493.09" font-size="4.15" fill="#4a4a4a">对课程能力达成情况的预警</text><path d="M100 495.2L159 495.2" stroke="#5a5a5a" stroke-width="0.7" fill="none"/><text x="106" y="503.99" font-size="4.15" fill="#4a4a4a">对学生达成情况的预警</text><path d="M100 506.2L150 506.2" stroke="#5a5a5a" stroke-width="0.7" fill="none"/><text x="106" y="514.89" font-size="4.15" fill="#4a4a4a">对专业达成情况的预警</text><path d="M100 517.5L150.7 517.5" stroke="#5a5a5a" stroke-width="0.7" fill="none"/><path d="M254.6 194C258 186 266 181.8 277 181.8" stroke="#5a5a5a" stroke-width="1.7" fill="none" stroke-linecap="round"/><path d="M254.6 247.5C260 241 268 238.4 277 238.4" stroke="#5a5a5a" stroke-width="1.7" fill="none" stroke-linecap="round"/><path d="M254.6 316.2C262 315.4 270 315 277 315" stroke="#5a5a5a" stroke-width="1.7" fill="none" stroke-linecap="round"/><path d="M254.6 379.4C262 381.5 270 383.6 276.8 383.8" stroke="#5a5a5a" stroke-width="1.7" fill="none" stroke-linecap="round"/><path d="M254.6 412.8C259 418.5 267 422.6 276.8 422.8" stroke="#5a5a5a" stroke-width="1.7" fill="none" stroke-linecap="round"/><path d="M254.6 441.4C259 446.5 267 450.6 276.8 450.8" stroke="#5a5a5a" stroke-width="1.7" fill="none" stroke-linecap="round"/><path d="M254.6 467.5C258 474 266 479 276.8 479" stroke="#2f8aa0" stroke-width="1.7" fill="none" stroke-linecap="round"/><path d="M254.6 493.4C257 500 265 507.3 276.8 507.5" stroke="#f6c4c4" stroke-width="1.4" fill="none" stroke-linecap="round"/><rect x="277.1" y="173" width="40.5" height="17.6" rx="2.4" fill="#fff" stroke="#9b9b9b" stroke-width="0.9"/><circle cx="284.90000000000003" cy="182.10000000000002" r="2.38" fill="#eec3a4"/><path d="M282.1 181.8a2.8 2.8 0 0 1 5.6 0q-2.8 -1.9599999999999997 -5.6 0z" fill="#5b3b2b"/><text class="r" x="289.9" y="183.89" font-size="5.8" fill="#4a4a4a">培养目标</text><rect x="277.1" y="229.4" width="40.5" height="17.8" rx="2.4" fill="#fff" stroke="#9b9b9b" stroke-width="0.9"/><circle cx="284.90000000000003" cy="236.70000000000002" r="1.5" fill="#e9b896"/><path d="M283.3 236.3a1.6 1.6 0 0 1 3.2 0z" fill="#4a3328"/><path d="M282.6 241.5q0 -3.4 2.3 -3.4q2.3 0 2.3 3.4z" fill="#e8eef8" stroke="#9ab" stroke-width="0.3"/><rect x="284.40000000000003" y="238.3" width="1" height="2.4" fill="#d04a4a"/><text class="r" x="289.9" y="240.39" font-size="5.8" fill="#4a4a4a">毕业要求</text><rect x="277.1" y="305.9" width="40.5" height="17.9" rx="2.4" fill="#fff" stroke="#9b9b9b" stroke-width="0.9"/><circle cx="284.90000000000003" cy="314.85" r="2.4" fill="#4585d6"/><circle cx="285.20000000000005" cy="315.05" r="1.2" fill="#a8cbf2"/><text class="r" x="289.9" y="316.94" font-size="5.8" fill="#4a4a4a">课程体系</text><rect x="276.8" y="375" width="69.5" height="17.7" rx="2.4" fill="#fff" stroke="#9b9b9b" stroke-width="0.9"/><circle cx="284.6" cy="383.85" r="2.5" fill="#3b83dc"/><circle cx="284.6" cy="383.85" r="1.3" fill="#d7e8fb"/><path d="M284.0 383.85l1 1l2.6 -3.2" stroke="#2b5fc0" stroke-width="0.8" fill="none"/><text class="r" x="290" y="385.94" font-size="5.8" fill="#4a4a4a">主干学科及主要课程</text><rect x="276.8" y="414" width="46.8" height="17.7" rx="2.4" fill="#fff" stroke="#9b9b9b" stroke-width="0.9"/><circle cx="284.3" cy="422.55" r="2.2" fill="#cfe3fa" stroke="#3b83dc" stroke-width="0.9"/><path d="M285.90000000000003 424.15000000000003l1.5 1.5" stroke="#3b83dc" stroke-width="1"/><text class="r" x="290" y="424.94" font-size="5.8" fill="#4a4a4a">学分统计表</text><rect x="276.8" y="441.9" width="57.8" height="17.7" rx="2.4" fill="#fff" stroke="#9b9b9b" stroke-width="0.9"/><text class="r" x="290" y="452.84" font-size="5.8" fill="#4a4a4a">教学进程计划表</text><rect x="276.8" y="469.9" width="32.6" height="18.4" rx="2.4" fill="#fff" stroke="#2f8aa0" stroke-width="1.4"/><text class="r" x="281.6" y="481.19" font-size="5.8" fill="#4a4a4a">教学简历</text><rect x="276.8" y="498.3" width="38.7" height="18.4" rx="2.4" fill="#fff" stroke="#f6c4c4" stroke-width="1.0"/><text class="r" x="281.8" y="509.59" font-size="5.8" fill="#4a4a4a">辅修双学位</text><path d="M317.6 181.8L324.3 181.8" stroke="#5a5a5a" stroke-width="0.7" fill="none"/><path d="M324.3 172.7L324.3 200.7" stroke="#5a5a5a" stroke-width="0.7" fill="none"/><text class="r" x="332.7" y="169.84" font-size="5.1" fill="#4a4a4a">培养目标A</text><path d="M324.3 172.7L358 172.7" stroke="#5a5a5a" stroke-width="0.7" fill="none"/><text class="r" x="332.7" y="183.64" font-size="5.1" fill="#4a4a4a">培养目标B</text><path d="M324.3 186.5L358 186.5" stroke="#5a5a5a" stroke-width="0.7" fill="none"/><text class="r" x="332.7" y="197.84" font-size="5.1" fill="#4a4a4a">培养目标C</text><path d="M324.3 200.7L358 200.7" stroke="#5a5a5a" stroke-width="0.7" fill="none"/><path d="M317.6 238.4L324.3 238.4" stroke="#5a5a5a" stroke-width="0.7" fill="none"/><path d="M324.3 220L324.3 264.8" stroke="#5a5a5a" stroke-width="0.7" fill="none"/><text class="r" x="332.7" y="217.86" font-size="4.6" fill="#4a4a4a">毕业要求1</text><path d="M324.3 220L356.4 220" stroke="#5a5a5a" stroke-width="0.7" fill="none"/><text class="r" x="332.7" y="240.46" font-size="4.6" fill="#4a4a4a">毕业要求2</text><path d="M324.3 242.9L363.1 242.9" stroke="#5a5a5a" stroke-width="0.7" fill="none"/><text class="r" x="332.7" y="262.06" font-size="4.6" fill="#4a4a4a">毕业要求3</text><path d="M324.3 264.8L356.4 264.8" stroke="#5a5a5a" stroke-width="0.7" fill="none"/><path d="M363.1 233.8L363.1 251.3" stroke="#5a5a5a" stroke-width="0.7" fill="none"/><text x="371.5" y="230.6" font-size="4.45" fill="#4a4a4a">毕业要求内涵观测指标点分解2-1</text><path d="M363.1 233.8L441.3 233.8" stroke="#5a5a5a" stroke-width="0.7" fill="none"/><text x="371.5" y="243" font-size="4.45" fill="#4a4a4a">毕业要求内涵观测指标点分解2-2</text><path d="M363.1 251.3L441.3 251.3" stroke="#5a5a5a" stroke-width="0.7" fill="none"/><path d="M317.6 315L324.3 315" stroke="#5a5a5a" stroke-width="0.7" fill="none"/><path d="M324.3 285.7L324.3 353" stroke="#5a5a5a" stroke-width="0.7" fill="none"/><text class="r" x="332.7" y="282.91" font-size="5.3" fill="#4a4a4a">通识必修课</text><path d="M324.3 285.7L362 285.7" stroke="#5a5a5a" stroke-width="0.7" fill="none"/><text class="r" x="332.7" y="309.11" font-size="5.3" fill="#4a4a4a">学科基础课</text><path d="M324.3 312L368.2 312" stroke="#5a5a5a" stroke-width="0.7" fill="none"/><text class="r" x="332.7" y="334.91" font-size="5.3" fill="#4a4a4a">专业必修课</text><path d="M324.3 337.8L362.2 337.8" stroke="#5a5a5a" stroke-width="0.7" fill="none"/><text class="r" x="332.7" y="349.1" font-size="5" fill="#4a4a4a">实践课</text><path d="M324.3 353L351.6 353" stroke="#5a5a5a" stroke-width="0.7" fill="none"/><path d="M368.2 297.8L368.2 323.8" stroke="#5a5a5a" stroke-width="0.7" fill="none"/><text x="376.6" y="295.62" font-size="4.5" font-weight="500" fill="#4a4a4a">课程1</text><path d="M368.2 297.8L391.8 297.8" stroke="#5a5a5a" stroke-width="0.7" fill="none"/><text x="376.6" y="308.42" font-size="4.5" font-weight="500" fill="#4a4a4a">课程2</text><path d="M368.2 311.3L391.8 311.3" stroke="#5a5a5a" stroke-width="0.7" fill="none"/><text x="376.6" y="321.22" font-size="4.5" font-weight="500" fill="#4a4a4a">课程3</text><path d="M368.2 323.8L391.8 323.8" stroke="#5a5a5a" stroke-width="0.7" fill="none"/><path d="M346.3 383.8L353.4 383.8" stroke="#5a5a5a" stroke-width="0.7" fill="none"/><path d="M353.4 373.9L353.4 402.6" stroke="#5a5a5a" stroke-width="0.7" fill="none"/><text class="r" x="362.2" y="371.1" font-size="5" fill="#4a4a4a">特色课程</text><path d="M353.4 373.9L385.2 373.9" stroke="#5a5a5a" stroke-width="0.7" fill="none"/><text class="r" x="362.2" y="385.3" font-size="5" fill="#4a4a4a">创新创业课程</text><path d="M353.4 388L395.9 388" stroke="#5a5a5a" stroke-width="0.7" fill="none"/><text class="r" x="362.2" y="399.3" font-size="5" fill="#4a4a4a">主要实践教学环节</text><path d="M353.4 402.6L406.5 402.6" stroke="#5a5a5a" stroke-width="0.7" fill="none"/><path d="M358.8 168.6C385 169 400 178 404 188" stroke="#a4d982" stroke-width="1.1" fill="none" stroke-linecap="round"/><path d="M401 197.3C396 208 380 215 358.2 216.2" stroke="#a4d982" stroke-width="1.1" fill="none" stroke-linecap="round"/><path d="M356.4 216.2l3.3 -1.4v2.8z" fill="#8fd06a"/><rect x="371.1" y="187.5" width="63" height="10.3" rx="1.4" fill="#74c536"/><text x="373.87" y="194.3" font-size="4.42" fill="#f0fae6">培养目标与毕业要求对应关系</text><path d="M359 259.8C400 260 436 270 442.5 287.4" stroke="#a4d982" stroke-width="1.1" fill="none" stroke-linecap="round"/><path d="M443 297.5C440 318 400 331 361.6 332.4" stroke="#a4d982" stroke-width="1.1" fill="none" stroke-linecap="round"/><path d="M356.8 259.7l3.3 -1.4v2.8z" fill="#8fd06a"/><rect x="406.8" y="287.2" width="72" height="10.5" rx="1.4" fill="#74c536"/><text x="409.65" y="294.1" font-size="4.42" fill="#f0fae6">课程体系与毕业要求的关联度矩阵</text></g>
</svg>
</body></html>
